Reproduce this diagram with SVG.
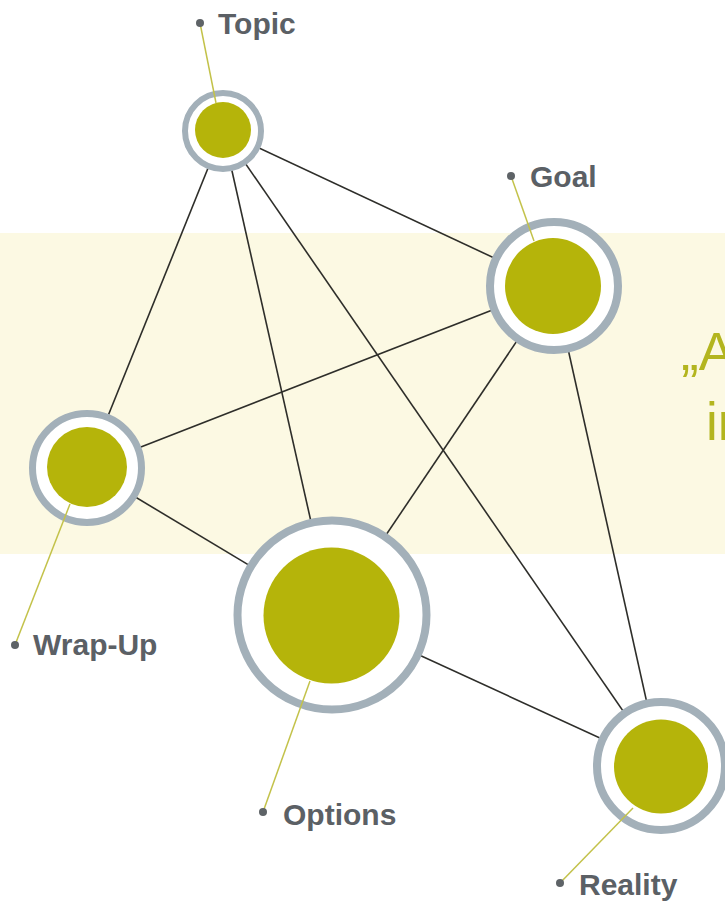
<svg xmlns="http://www.w3.org/2000/svg" width="725" height="902" viewBox="0 0 725 902">
<style>
.ring{fill:#ffffff;stroke:#a3b0b9;}
.core{fill:#b5b40a;}
.edge{stroke:#2e2e2a;stroke-width:1.6;fill:none;}
.lead{stroke:#c3c24a;stroke-width:1.5;fill:none;}
.dot{fill:#5e6367;}
.lbl{font-family:"Liberation Sans",Arial,sans-serif;font-weight:bold;font-size:30px;fill:#5b6065;}
.quote{font-family:"Liberation Sans",Arial,sans-serif;font-size:53px;fill:#b3b51f;}
</style>
<rect x="0" y="0" width="725" height="902" fill="#ffffff"/>
<rect id="band" x="0" y="233" width="725" height="321" fill="#fcf9e3"/>
<g id="quote">
<text class="quote" x="681" y="370">„A</text>
<text class="quote" x="706" y="440">in</text>
</g>
<g id="connectors">
<line class="edge" x1="223" y1="131" x2="554" y2="286"/>
<line class="edge" x1="223" y1="131" x2="87" y2="468"/>
<line class="edge" x1="223" y1="131" x2="332" y2="615"/>
<line class="edge" x1="223" y1="131" x2="661" y2="766"/>
<line class="edge" x1="554" y1="286" x2="87" y2="468"/>
<line class="edge" x1="554" y1="286" x2="332" y2="615"/>
<line class="edge" x1="554" y1="286" x2="661" y2="766"/>
<line class="edge" x1="87" y1="468" x2="332" y2="615"/>
<line class="edge" x1="332" y1="615" x2="661" y2="766"/>
</g>
<g id="topic">
<circle class="ring" cx="223" cy="131" r="38" stroke-width="6"/>
<circle class="core" cx="223" cy="130" r="28"/>
<line class="lead" x1="200" y1="23" x2="216" y2="103"/>
<circle class="dot" cx="200" cy="23" r="4"/>
<text class="lbl" x="218" y="34">Topic</text>
</g>
<g id="goal">
<circle class="ring" cx="554" cy="286" r="64" stroke-width="8"/>
<circle class="core" cx="553" cy="286" r="48"/>
<line class="lead" x1="511" y1="176" x2="534" y2="241"/>
<circle class="dot" cx="511" cy="176" r="4"/>
<text class="lbl" x="530" y="187">Goal</text>
</g>
<g id="wrapup">
<circle class="ring" cx="87" cy="468" r="54.5" stroke-width="7"/>
<circle class="core" cx="87" cy="467" r="40"/>
<line class="lead" x1="15" y1="645" x2="70" y2="504"/>
<circle class="dot" cx="15" cy="645" r="4"/>
<text class="lbl" x="33" y="655">Wrap-Up</text>
</g>
<g id="options">
<circle class="ring" cx="332" cy="615" r="94.5" stroke-width="8"/>
<circle class="core" cx="331.5" cy="615.5" r="68"/>
<line class="lead" x1="263" y1="812" x2="310" y2="681"/>
<circle class="dot" cx="263" cy="812" r="4"/>
<text class="lbl" x="283" y="825">Options</text>
</g>
<g id="reality">
<circle class="ring" cx="661" cy="766" r="64" stroke-width="8"/>
<circle class="core" cx="661" cy="766.5" r="47"/>
<line class="lead" x1="560" y1="883" x2="633" y2="808"/>
<circle class="dot" cx="560" cy="883" r="4"/>
<text class="lbl" x="579" y="895">Reality</text>
</g>
</svg>
